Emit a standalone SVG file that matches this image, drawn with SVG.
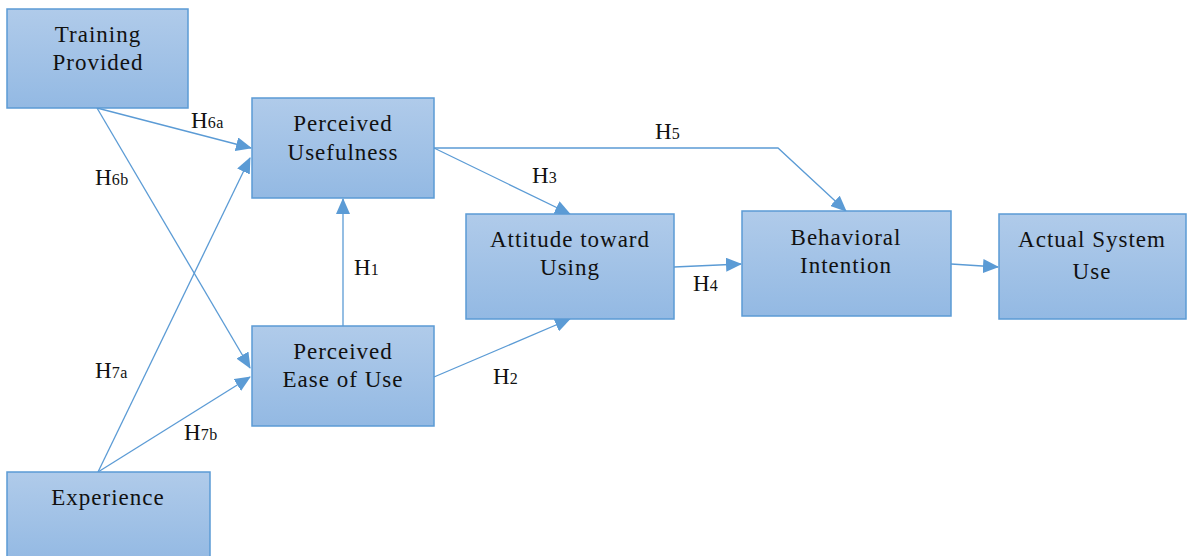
<svg xmlns="http://www.w3.org/2000/svg" width="1188" height="556" viewBox="0 0 1188 556">
<defs>
<linearGradient id="g" x1="0" y1="0" x2="0" y2="1">
<stop offset="0" stop-color="#b0cbea"/>
<stop offset="1" stop-color="#93b9e3"/>
</linearGradient>
<marker id="ah" markerUnits="userSpaceOnUse" markerWidth="16" markerHeight="14" refX="15" refY="7" orient="auto">
<path d="M0,0 L16,7 L0,14 Z" fill="#5b9bd5"/>
</marker>
<style>
.box{fill:url(#g);stroke:#5b9bd5;stroke-width:1.5}
.t{font-family:"Liberation Serif",serif;font-size:23px;letter-spacing:1px;fill:#111;text-anchor:middle}
.h{font-family:"Liberation Serif",serif;font-size:23px;fill:#111}
.s{font-size:16px;letter-spacing:0.5px}
.c{fill:none;stroke:#5b9bd5;stroke-width:1.3;marker-end:url(#ah)}
</style>
</defs>
<rect width="1188" height="556" fill="#fff"/>
<g id="connectors">
<path class="c" d="M97,108 L251,148"/>
<path class="c" d="M97,108 L250,368"/>
<path class="c" d="M98,472 L250,158"/>
<path class="c" d="M98,472 L250,377"/>
<path class="c" d="M343,326 L343,199"/>
<path class="c" d="M434,377 L570,319"/>
<path class="c" d="M434,148 L570,214"/>
<path class="c" d="M434,148 L778,148 L846,211"/>
<path class="c" d="M674,267 L741,264"/>
<path class="c" d="M951,264 L998,267"/>
</g>
<g id="labels">
<text class="h" x="191" y="128">H<tspan class="s">6a</tspan></text>
<text class="h" x="95" y="185">H<tspan class="s">6b</tspan></text>
<text class="h" x="95" y="378">H<tspan class="s">7a</tspan></text>
<text class="h" x="184" y="440">H<tspan class="s">7b</tspan></text>
<text class="h" x="354" y="275">H<tspan class="s">1</tspan></text>
<text class="h" x="493" y="384">H<tspan class="s">2</tspan></text>
<text class="h" x="532" y="183">H<tspan class="s">3</tspan></text>
<text class="h" x="655" y="139">H<tspan class="s">5</tspan></text>
<text class="h" x="693" y="291">H<tspan class="s">4</tspan></text>
</g>
<g id="training">
<rect class="box" x="7" y="9" width="181" height="99"/>
<text class="t" x="98" y="42">Training</text>
<text class="t" x="98" y="70">Provided</text>
</g>
<g id="pu">
<rect class="box" x="252" y="98" width="182" height="100"/>
<text class="t" x="343" y="131">Perceived</text>
<text class="t" x="343" y="160">Usefulness</text>
</g>
<g id="peou">
<rect class="box" x="252" y="326" width="182" height="100"/>
<text class="t" x="343" y="359">Perceived</text>
<text class="t" x="343" y="387">Ease of Use</text>
</g>
<g id="experience">
<rect class="box" x="7" y="472" width="203" height="90"/>
<text class="t" x="108" y="505">Experience</text>
</g>
<g id="atu">
<rect class="box" x="466" y="214" width="208" height="105"/>
<text class="t" x="570" y="247">Attitude toward</text>
<text class="t" x="570" y="275">Using</text>
</g>
<g id="bi">
<rect class="box" x="742" y="211" width="209" height="105"/>
<text class="t" x="846" y="245">Behavioral</text>
<text class="t" x="846" y="273">Intention</text>
</g>
<g id="asu">
<rect class="box" x="999" y="214" width="187" height="105"/>
<text class="t" x="1092" y="247">Actual System</text>
<text class="t" x="1092" y="279">Use</text>
</g>
</svg>
